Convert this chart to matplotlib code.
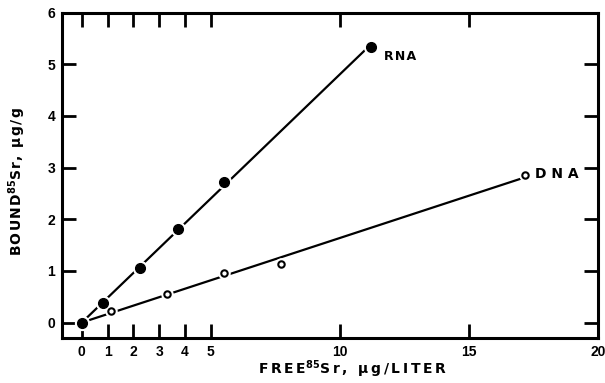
import numpy as np
import matplotlib
matplotlib.use("Agg")
import matplotlib.pyplot as plt

rna_x = [0.0, 0.82, 2.27, 3.71, 5.51, 11.2]
rna_y = [0.0, 0.37, 1.06, 1.81, 2.73, 5.34]
dna_x = [0.0, 1.13, 3.29, 5.53, 7.73, 17.2]
dna_y = [0.0, 0.22, 0.56, 0.95, 1.14, 2.85]
xticks = [0, 1, 2, 3, 4, 5, 10, 15, 20]
yticks = [0, 1, 2, 3, 4, 5, 6]

plt.rcParams['font.family'] = ['DejaVu Sans']

W, H = 605, 383
fig = plt.figure(figsize=(6.05, 3.83), dpi=100)
ax = fig.add_axes([62 / W, 1 - 338 / H, (597.7 - 62) / W, (338 - 12.7) / H])

def fit_line(xs, ys):
    xs = np.asarray(xs); ys = np.asarray(ys)
    slope = np.sum(xs * ys) / np.sum(xs * xs)
    xl = np.array([0.0, xs[-1]])
    return xl, slope * xl

for xs, ys, filled in [(rna_x, rna_y, True), (dna_x, dna_y, False)]:
    lx, ly = fit_line(xs, ys)
    ax.plot(lx, ly, color='black', lw=1.6, zorder=2, solid_capstyle='butt')
    if filled:
        ax.plot(xs, ys, 'o', ms=10, color='white', mec='white', zorder=3)
        ax.plot(xs, ys, 'o', ms=7, color='black', mec='black', zorder=4)
    else:
        ax.plot(xs[1:], ys[1:], 'o', ms=8, color='white', mec='white', zorder=3)
        ax.plot(xs[1:], ys[1:], 'o', ms=4.6, mfc='white', mec='black', mew=1.5, zorder=4)

ax.text(11.7, 5.15, 'R\u200aN\u200aA', fontsize=9, fontweight='bold', ha='left', va='center')
ax.text(17.55, 2.87, 'D N A', fontsize=10, fontweight='bold', ha='left', va='center')

ax.set_xlim(-0.77, 20)
ax.set_ylim(-0.30, 6)
ax.set_xticks(xticks)
ax.set_yticks(yticks)
ax.tick_params(direction='in', length=10, width=2, top=True, right=True,
               labelsize=10, pad=5)
for lab in ax.get_xticklabels() + ax.get_yticklabels():
    lab.set_fontweight('bold')
    lab.set_family('Liberation Sans')
for s in ax.spines.values():
    s.set_linewidth(2.2)

hs = '\u200a'
hs2 = '\u200a\u200a'
xl = hs2.join('FREE') + r'$^{\mathbf{85}}$' + hs2.join('Sr, \u00b5g/LITER')
yl = hs.join('BOUND') + r'$^{\mathbf{85}}$' + hs.join('Sr, \u00b5g/g')
fig.text(353 / W, 1 - 369.5 / H, xl, fontsize=10, fontweight='bold',
         ha='center', va='center')
fig.text(17 / W, 1 - 182 / H, yl, fontsize=10, fontweight='bold',
         ha='center', va='center', rotation=90)

fig.savefig('out.png', dpi=100)
